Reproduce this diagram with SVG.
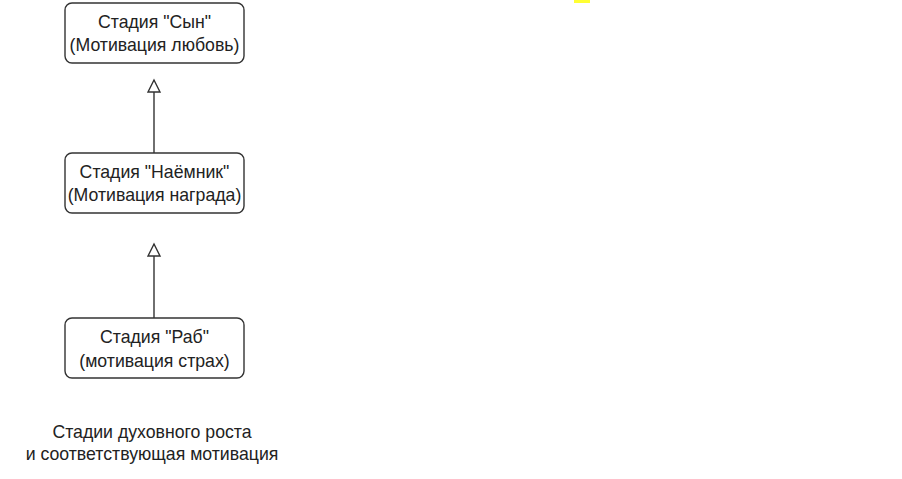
<svg xmlns="http://www.w3.org/2000/svg" width="902" height="479" viewBox="0 0 902 479">
<style>
.box{fill:#fff;stroke:#333;stroke-width:1.4}
.t{font-family:"Liberation Sans",Arial,sans-serif;font-size:17.7px;fill:#222;text-anchor:middle}
.edge{stroke:#333;stroke-width:1.4;fill:none}
</style>
<defs>
<marker id="tri" markerWidth="16" markerHeight="16" refX="13" refY="7" orient="auto" markerUnits="userSpaceOnUse">
<path d="M1,1 L13,7 L1,13 Z" fill="#fff" stroke="#333" stroke-width="1.4"/>
</marker>
</defs>
<rect x="0" y="0" width="902" height="479" fill="#fff"/>
<rect x="574" y="0" width="16" height="3" fill="#ffff33"/>
<g id="connectors">
<path class="edge" d="M154,318 L154,244" marker-end="url(#tri)"/>
<path class="edge" d="M154,153 L154,80" marker-end="url(#tri)"/>
</g>
<g id="son">
<rect class="box" x="65" y="3" width="179" height="60" rx="7"/>
<text class="t" x="154.5" y="28">Стадия "Сын"</text>
<text class="t" x="154.5" y="51">(Мотивация любовь)</text>
</g>
<g id="mercenary">
<rect class="box" x="65" y="153" width="179" height="60" rx="7"/>
<text class="t" x="154.5" y="178">Стадия "Наёмник"</text>
<text class="t" x="154.5" y="201">(Мотивация награда)</text>
</g>
<g id="slave">
<rect class="box" x="65" y="318" width="179" height="60" rx="7"/>
<text class="t" x="154.5" y="343">Стадия "Раб"</text>
<text class="t" x="154.5" y="367">(мотивация страх)</text>
</g>
<g id="caption">
<text class="t" x="152" y="438">Стадии духовного роста</text>
<text class="t" x="152" y="460">и соответствующая мотивация</text>
</g>
</svg>
